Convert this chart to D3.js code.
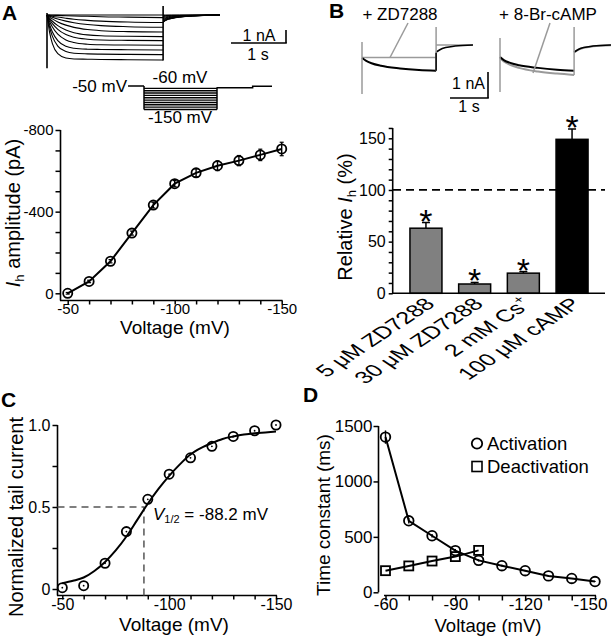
<!DOCTYPE html>
<html><head><meta charset="utf-8">
<script src="https://cdn.jsdelivr.net/npm/d3@7"></script>
<style>
body{margin:0;background:#fff}
text{font-family:"Liberation Sans",Arial,Helvetica,sans-serif;fill:#000}
</style>
</head><body>
<svg id="fig" width="612" height="640"></svg>
<script>
// ---------------- DATA ----------------
// Panel A: Ih amplitude vs voltage
const voltA = [-50,-60,-70,-80,-90,-100,-110,-120,-130,-140,-150];
const ihAmp = [0,-58,-157,-295,-432,-537,-590,-625,-650,-678,-707];
const ihErr = [4,6,8,10,14,15,20,24,25,28,33];
const ticksA_y = [0,-100,-200,-300,-400,-500,-600,-700,-800];
const labelsA_y = [0,-400,-800];
const labelsA_x = [-50,-100,-150];

// Panel A inset: current traces (nA, inward plotted downward) sampled at times (s)
const stepT = [0, 0.05, 0.1, 0.2, 0.35, 0.5, 0.75, 1.0, 1.5, 2.15];
const stepI = [
  [0,0,0,0,0,0,0,0,0,0],
  [0,0.01,0.02,0.03,0.06,0.08,0.10,0.13,0.16,0.20],
  [0,0.05,0.09,0.16,0.25,0.33,0.41,0.47,0.54,0.58],
  [0,0.09,0.17,0.31,0.47,0.59,0.73,0.82,0.90,0.94],
  [0,0.16,0.30,0.53,0.78,0.95,1.12,1.21,1.28,1.31],
  [0,0.26,0.48,0.82,1.16,1.36,1.53,1.60,1.64,1.66],
  [0,0.37,0.66,1.10,1.50,1.71,1.86,1.92,1.95,1.97],
  [0,0.52,0.92,1.48,1.92,2.12,2.25,2.29,2.31,2.33],
  [0,0.76,1.31,1.97,2.41,2.56,2.63,2.65,2.67,2.69],
  [0,0.98,1.64,2.39,2.81,2.94,2.99,3.01,3.03,3.05],
  [0,1.38,2.20,2.98,3.31,3.38,3.40,3.42,3.44,3.46]
];
const tailT = [2.15, 2.2, 2.3, 2.45, 2.7, 3.2];
const tailI = [
  [0,0,0,0,0,0],
  [0.05,0.04,0.03,0.02,0.01,0.0],
  [0.12,0.09,0.06,0.04,0.02,0.0],
  [0.20,0.15,0.10,0.06,0.03,0.0],
  [0.28,0.21,0.14,0.08,0.04,0.0],
  [0.35,0.26,0.17,0.10,0.05,0.01],
  [0.42,0.31,0.20,0.12,0.06,0.01],
  [0.48,0.35,0.23,0.14,0.06,0.01],
  [0.52,0.38,0.25,0.15,0.07,0.01],
  [0.55,0.40,0.27,0.16,0.07,0.01],
  [0.58,0.42,0.28,0.17,0.08,0.01]
];
const transA = [[0,-0.15,4.1],[2.15,-0.7,3.5]];   // [time, top nA, bottom nA]
const protoSteps = [-60,-70,-80,-90,-100,-110,-120,-130,-140,-150];

// Panel B inset traces
const bT = [0, 0.1, 0.25, 0.5, 1.0, 1.5, 1.95];
const bCtrlL = [0.5, 0.6, 0.7, 0.8, 0.9, 0.96, 0.99];
const bZD = [0.48, 0.48, 0.48, 0.48, 0.48, 0.48, 0.48];
const bCtrlR = [0.46, 0.58, 0.68, 0.78, 0.88, 0.95, 0.99];
const bCAMP = [0.5, 0.63, 0.75, 0.88, 1.02, 1.1, 1.15];
const bTailT = [1.95, 2.05, 2.2, 2.45, 2.92];
const bTailCtrl = [0.27, 0.18, 0.1, 0.04, 0];
const bTailZD = [0, 0, 0, 0, 0];
const bTailCAMP = [0.29, 0.19, 0.11, 0.05, 0.01];

// Panel B: relative Ih bars
const barCats = ["5 μM ZD7288","30 μM ZD7288","2 mM Cs+","100 μM cAMP"];
const relIh = [63, 9, 19.5, 149];
const relErr = [5.5, 1.5, 1.5, 10];
const ticksB_y = [0,10,20,30,40,50,60,70,80,90,100,110,120,130,140,150,160];
const labelsB_y = [0,50,100,150];

// Panel C: normalized tail current
const voltC = [-50,-60,-70,-80,-90,-100,-110,-120,-130,-140,-150];
const tailNorm = [0.008,0.02,0.157,0.35,0.547,0.70,0.80,0.87,0.93,0.965,1.0];
const fitV = [-50,-55,-60,-65,-70,-75,-80,-85,-90,-95,-100,-105,-110,-115,-120,-125,-130,-135,-140,-145,-150];
const fitY = [0.035,0.05,0.07,0.11,0.165,0.235,0.32,0.42,0.52,0.61,0.69,0.76,0.82,0.86,0.89,0.915,0.93,0.942,0.95,0.955,0.96];
const vHalf = -88.2;

// Panel D: time constants
const voltAct = [-60,-70,-80,-90,-100,-110,-120,-130,-140,-150];
const tauAct = [1400,645,510,376,288,240,195,148,125,97];
const tauActErr = [60,25,15,15,10,8,6,6,5,5];
const voltDeact = [-60,-70,-80,-90,-100];
const tauDeact = [195,238,282,322,378];
const labelsD_x = [-60,-90,-120,-150];

// ---------------- DRAWING ----------------
const svg = d3.select("#fig");
svg.append("rect").attr("width",612).attr("height",640).attr("fill","#fff");
const F = "Liberation Sans, Arial, Helvetica, sans-serif";

function styleAxis(g, fs){
  g.select(".domain").remove();
  g.selectAll(".tick line").attr("stroke","#000").attr("stroke-width",1.5);
  g.selectAll(".tick text").attr("font-size",fs).attr("font-family",F).attr("fill","#000");
}
function panelLabel(t,x,y){
  svg.append("text").attr("x",x).attr("y",y).attr("font-size",21).attr("font-weight","bold").text(t);
}
function hline(x1,x2,y,w){svg.append("line").attr("x1",x1).attr("x2",x2).attr("y1",y).attr("y2",y).attr("stroke","#000").attr("stroke-width",w||1.6);}
function vline(x,y1,y2,w){svg.append("line").attr("x1",x).attr("x2",x).attr("y1",y1).attr("y2",y2).attr("stroke","#000").attr("stroke-width",w||1.6);}

// ===== Panel A =====
panelLabel("A",2,20);
const tA = d3.scaleLinear().domain([0,1]).range([47,101]);
const iA = d3.scaleLinear().domain([0,1]).range([15,28]);
const traceLine = d3.line().curve(d3.curveMonotoneX);
stepI.forEach(row=>{
  svg.append("path").attr("d",traceLine(stepT.map((t,i)=>[tA(t),iA(row[i])])))
    .attr("fill","none").attr("stroke","#000").attr("stroke-width",1.1);
});
tailI.forEach(row=>{
  svg.append("path").attr("d",traceLine(tailT.map((t,i)=>[tA(t),iA(row[i])])))
    .attr("fill","none").attr("stroke","#000").attr("stroke-width",1);
});
svg.append("line").attr("x1",tA(3.19)).attr("x2",220).attr("y1",iA(0)).attr("y2",iA(0)).attr("stroke","#000").attr("stroke-width",1.2);
transA.forEach(tr=>vline(tA(tr[0]),iA(tr[1]),iA(tr[2]),1.6));
vline(286,30,43,1.6); hline(231,286.8,43,1.6);
svg.append("text").attr("x",259).attr("y",41).attr("text-anchor","middle").attr("font-size",16).text("1 nA");
svg.append("text").attr("x",258).attr("y",60).attr("text-anchor","middle").attr("font-size",16).text("1 s");
const tP = d3.scaleLinear().domain([0,2.15]).range([144,217]);
const vP = d3.scaleLinear().domain([-50,-150]).range([86,109.5]);
svg.append("path").attr("d",d3.line()([[tP(-0.47),vP(-50)],[tP(0),vP(-50)]])).attr("stroke","#000").attr("stroke-width",1.5).attr("fill","none");
protoSteps.forEach(v=>hline(tP(0),tP(2.15),vP(v),1.4));
vline(tP(0),vP(-50),vP(-150),1.5); vline(tP(2.15),vP(-55),vP(-150),1.5);
svg.append("path").attr("d",d3.line()([[tP(2.15),vP(-57)],[tP(3.2),vP(-57)],[tP(3.2),vP(-51)],[tP(3.77),vP(-51)]])).attr("stroke","#000").attr("stroke-width",1.5).attr("fill","none");
svg.append("text").attr("x",127).attr("y",92).attr("text-anchor","end").attr("font-size",17).text("-50 mV");
svg.append("text").attr("x",180).attr("y",83).attr("text-anchor","middle").attr("font-size",17).text("-60 mV");
svg.append("text").attr("x",180).attr("y",123).attr("text-anchor","middle").attr("font-size",17).text("-150 mV");

const xA = d3.scaleLinear().domain([-50,-150]).range([67.7,281.7]);
const yA = d3.scaleLinear().domain([0,-800]).range([293.3,130]);
const gAy = svg.append("g").attr("transform","translate(60.5,0)")
  .call(d3.axisLeft(yA).tickValues(ticksA_y).tickSize(5).tickPadding(2)
  .tickFormat(d=>labelsA_y.includes(d)?String(d):""));
styleAxis(gAy,15);
vline(60.5,130,300.5);
const gAx = svg.append("g").attr("transform","translate(0,300.5)")
  .call(d3.axisBottom(xA).tickValues(voltA).tickSize(4).tickPadding(-1)
  .tickFormat(d=>labelsA_x.includes(d)?String(d):""));
styleAxis(gAx,15);
hline(60,282.5,300.5);
svg.append("path").attr("d",d3.line()(voltA.map((v,i)=>[xA(v),yA(ihAmp[i])])))
  .attr("fill","none").attr("stroke","#000").attr("stroke-width",2);
voltA.forEach((v,i)=>{
  svg.append("circle").attr("cx",xA(v)).attr("cy",yA(ihAmp[i])).attr("r",4.6)
    .attr("fill","none").attr("stroke","#000").attr("stroke-width",1.8);
  const y1=yA(ihAmp[i]-ihErr[i]), y2=yA(ihAmp[i]+ihErr[i]);
  vline(xA(v),y1,y2,1.4); hline(xA(v)-2,xA(v)+2,y1,1.2); hline(xA(v)-2,xA(v)+2,y2,1.2);
});
const tyA = svg.append("text").attr("transform","translate(20,213) rotate(-90)").attr("text-anchor","middle").attr("font-size",20);
tyA.append("tspan").attr("font-style","italic").text("I");
tyA.append("tspan").attr("font-size",13).attr("dy",4).text("h");
tyA.append("tspan").attr("dy",-4).text(" amplitude (pA)");
svg.append("text").attr("x",175).attr("y",334).attr("text-anchor","middle").attr("font-size",19).text("Voltage (mV)");

// ===== Panel B =====
panelLabel("B",329,18);
const tBL = d3.scaleLinear().domain([0,1]).range([362,400]);
const tBR = d3.scaleLinear().domain([0,1]).range([500,538]);
const iB = d3.scaleLinear().domain([0,1]).range([45,71]);
function bTrace(ts,vals,tsc,col,w){
  svg.append("path").attr("d",traceLine(ts.map((t,i)=>[tsc(t),iB(vals[i])])))
    .attr("fill","none").attr("stroke",col).attr("stroke-width",w);
}
const GR="#9a9a9a";
bTrace(bT,bZD,tBL,GR,1.5);
bTrace(bT,bCtrlL,tBL,"#000",2);
bTrace(bTailT,bTailZD,tBL,GR,1.5);
bTrace(bTailT,bTailCtrl,tBL,"#000",1.6);
svg.append("line").attr("x1",tBL(0)).attr("x2",tBL(0)).attr("y1",iB(-0.12)).attr("y2",iB(1.88)).attr("stroke",GR).attr("stroke-width",1.5);
svg.append("line").attr("x1",tBL(1.95)).attr("x2",tBL(1.95)).attr("y1",iB(-0.69)).attr("y2",iB(0.99)).attr("stroke",GR).attr("stroke-width",1.5);
svg.append("line").attr("x1",tBL(1.95)).attr("x2",tBL(1.95)).attr("y1",iB(0.3)).attr("y2",iB(0.99)).attr("stroke","#000").attr("stroke-width",1.5);
bTrace(bT,bCAMP,tBR,GR,2);
bTrace(bT,bCtrlR,tBR,"#000",2);
bTrace(bTailT,bTailCAMP,tBR,GR,2);
bTrace(bTailT,bTailCtrl,tBR,"#000",1.6);
svg.append("line").attr("x1",tBR(0)).attr("x2",tBR(0)).attr("y1",iB(-0.27)).attr("y2",iB(1.81)).attr("stroke",GR).attr("stroke-width",1.5);
svg.append("line").attr("x1",tBR(1.95)).attr("x2",tBR(1.95)).attr("y1",iB(-0.69)).attr("y2",iB(1.15)).attr("stroke",GR).attr("stroke-width",1.5);
svg.append("text").attr("x",400).attr("y",20).attr("text-anchor","middle").attr("font-size",17).text("+ ZD7288");
svg.append("text").attr("x",548).attr("y",20).attr("text-anchor","middle").attr("font-size",17).text("+ 8-Br-cAMP");
svg.append("line").attr("x1",408).attr("y1",23).attr("x2",390).attr("y2",57.5).attr("stroke",GR).attr("stroke-width",1.5);
svg.append("line").attr("x1",550).attr("y1",23).attr("x2",533).attr("y2",73).attr("stroke",GR).attr("stroke-width",1.5);
vline(488,72,98,1.6); hline(450,488.8,98,1.6);
svg.append("text").attr("x",485).attr("y",89).attr("text-anchor","end").attr("font-size",16).text("1 nA");
svg.append("text").attr("x",469).attr("y",112).attr("text-anchor","middle").attr("font-size",16).text("1 s");

const xB = d3.scaleBand().domain(barCats).range([393,605]).paddingInner(0.343).paddingOuter(0.348);
const yB = d3.scaleLinear().domain([0,150]).range([293.3,138.3]);
const gBy = svg.append("g").attr("transform","translate(392.7,0)")
  .call(d3.axisLeft(yB).tickValues(ticksB_y).tickSize(4).tickPadding(3)
  .tickFormat(d=>labelsB_y.includes(d)?String(d):""));
styleAxis(gBy,16);
vline(392.7,yB(160),293.3);
barCats.forEach((c,i)=>{
  const x0=xB(c), w=xB.bandwidth(), cx=x0+w/2;
  const top=yB(relIh[i]), et=yB(relIh[i]+relErr[i]);
  vline(cx,top,et,1.5); hline(cx-4,cx+4,et,1.5);
  svg.append("rect").attr("x",x0).attr("y",top).attr("width",w).attr("height",293.3-top)
    .attr("fill",i===3?"#000":"#808080").attr("stroke","#000").attr("stroke-width",1.5);
  svg.append("text").attr("x",cx).attr("y",et+10).attr("text-anchor","middle")
    .attr("font-size",34).attr("fill","#222").text("*");
});
hline(392,605,293.3,1.6);
svg.append("line").attr("x1",393).attr("x2",605).attr("y1",yB(100)).attr("y2",yB(100))
  .attr("stroke","#000").attr("stroke-width",1.8).attr("stroke-dasharray","8,5");
barCats.forEach((c,i)=>{
  const cx=xB(c)+xB.bandwidth()/2;
  const t=svg.append("text").attr("transform",`translate(${cx+10},${305}) scale(1.5,1) rotate(-45)`)
    .attr("text-anchor","end").attr("font-size",17);
  if(c.endsWith("+")){
    t.append("tspan").text(c.slice(0,-1));
    t.append("tspan").attr("font-size",11).attr("dy",-7).text("+");
  } else t.text(c);
});
const tyB = svg.append("text").attr("transform","translate(352,217) rotate(-90)").attr("text-anchor","middle").attr("font-size",20);
tyB.append("tspan").text("Relative ");
tyB.append("tspan").attr("font-style","italic").text("I");
tyB.append("tspan").attr("font-size",13).attr("dy",4).text("h");
tyB.append("tspan").attr("dy",-4).text(" (%)");

// ===== Panel C =====
panelLabel("C",1,407);
const xC = d3.scaleLinear().domain([-50,-150]).range([62.3,276]);
const yC = d3.scaleLinear().domain([0,1]).range([589,425]);
const gCy = svg.append("g").attr("transform","translate(57.5,0)")
  .call(d3.axisLeft(yC).tickValues([0,0.25,0.5,0.75,1]).tickSize(5).tickPadding(2)
  .tickFormat(d=>d===0?"0":(d===0.5?"0.5":(d===1?"1.0":""))));
styleAxis(gCy,16);
vline(57.5,425,595.5);
const gCx = svg.append("g").attr("transform","translate(0,595.5)")
  .call(d3.axisBottom(xC).tickValues(voltC).tickSize(4).tickPadding(-1)
  .tickFormat(d=>labelsA_x.includes(d)?String(d):""));
styleAxis(gCx,16);
hline(57,277,595.5);
svg.append("path").attr("d",d3.line()([[57.5,yC(0.5)],[xC(vHalf),yC(0.5)],[xC(vHalf),595.5]]))
  .attr("fill","none").attr("stroke","#555").attr("stroke-width",1.5).attr("stroke-dasharray","7,5");
svg.append("path").attr("d",d3.line().curve(d3.curveMonotoneX)(fitV.map((v,i)=>[xC(v),yC(fitY[i])])))
  .attr("fill","none").attr("stroke","#000").attr("stroke-width",2);
voltC.forEach((v,i)=>{
  svg.append("circle").attr("cx",xC(v)).attr("cy",yC(tailNorm[i])).attr("r",4.6)
    .attr("fill","none").attr("stroke","#000").attr("stroke-width",1.8);
  svg.append("circle").attr("cx",xC(v)).attr("cy",yC(tailNorm[i])).attr("r",0.9).attr("fill","#000");
});
const vt = svg.append("text").attr("x",153).attr("y",520).attr("font-size",17);
vt.append("tspan").attr("font-style","italic").text("V");
vt.append("tspan").attr("font-size",11).attr("dy",3).text("1/2");
vt.append("tspan").attr("dy",-3).text(" = -88.2 mV");
svg.append("text").attr("transform","translate(23,517) rotate(-90)").attr("text-anchor","middle").attr("font-size",20).text("Normalized tail current");
svg.append("text").attr("x",174).attr("y",631).attr("text-anchor","middle").attr("font-size",19).text("Voltage (mV)");

// ===== Panel D =====
panelLabel("D",303,402);
const xD = d3.scaleLinear().domain([-60,-150]).range([385.5,595]);
const yD = d3.scaleLinear().domain([0,1500]).range([592.3,426]);
const gDy = svg.append("g").attr("transform","translate(378.5,0)")
  .call(d3.axisLeft(yD).tickValues([0,500,1000,1500]).tickSize(5).tickPadding(1)
  .tickFormat(d=>String(d)));
styleAxis(gDy,17);
vline(378.5,426,592.3);
const gDx = svg.append("g").attr("transform","translate(0,595.5)")
  .call(d3.axisBottom(xD).tickValues(voltAct).tickSize(5).tickPadding(-3)
  .tickFormat(d=>labelsD_x.includes(d)?String(d):""));
styleAxis(gDx,17);
gDx.selectAll(".tick text").filter(d=>d===-150).attr("dx",-5);
hline(384,596,595.5);
svg.append("path").attr("d",d3.line()(voltDeact.map((v,i)=>[xD(v),yD(tauDeact[i])])))
  .attr("fill","none").attr("stroke","#000").attr("stroke-width",2);
svg.append("path").attr("d",d3.line()(voltAct.map((v,i)=>[xD(v),yD(tauAct[i])])))
  .attr("fill","none").attr("stroke","#000").attr("stroke-width",2);
voltDeact.forEach((v,i)=>{
  svg.append("rect").attr("x",xD(v)-4.5).attr("y",yD(tauDeact[i])-4.5).attr("width",9).attr("height",9)
    .attr("fill","none").attr("stroke","#000").attr("stroke-width",1.8);
});
voltAct.forEach((v,i)=>{
  const y1=yD(tauAct[i]+tauActErr[i]), y2=yD(tauAct[i]-tauActErr[i]);
  vline(xD(v),y1,y2,1.4);
  svg.append("circle").attr("cx",xD(v)).attr("cy",yD(tauAct[i])).attr("r",4.8)
    .attr("fill","none").attr("stroke","#000").attr("stroke-width",1.8);
});
svg.append("circle").attr("cx",477).attr("cy",443.5).attr("r",5.2).attr("fill","none").attr("stroke","#000").attr("stroke-width",1.8);
svg.append("text").attr("x",487).attr("y",450).attr("font-size",18.5).text("Activation");
svg.append("rect").attr("x",472).attr("y",461.5).attr("width",10).attr("height",10).attr("fill","none").attr("stroke","#000").attr("stroke-width",1.6);
svg.append("text").attr("x",487).attr("y",473).attr("font-size",18.5).text("Deactivation");
svg.append("text").attr("transform","translate(330,515) rotate(-90)").attr("text-anchor","middle").attr("font-size",19).text("Time constant (ms)");
svg.append("text").attr("x",488).attr("y",632).attr("text-anchor","middle").attr("font-size",18.5).text("Voltage (mV)");
</script>
</body></html>
